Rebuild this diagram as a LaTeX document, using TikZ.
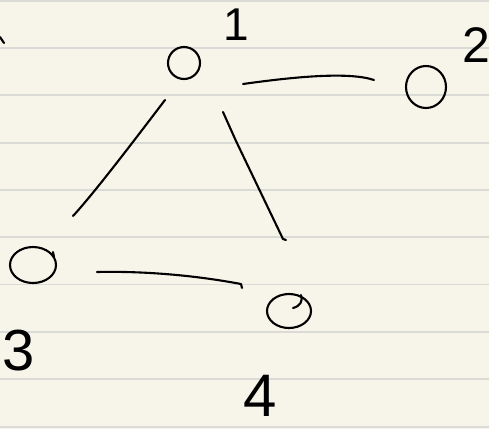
\documentclass[tikz,border=0pt]{standalone}
\usepackage{fontspec}
\setmainfont{Liberation Sans}
\usetikzlibrary{shapes.geometric}
\definecolor{paper}{HTML}{F7F5EA}
\definecolor{rule}{HTML}{DADAD6}
\tikzset{
  vertex/.style={draw=black, ellipse, line width=2.1pt, inner sep=0pt},
  stroke/.style={draw=black, line width=2.1pt, line cap=round, line join=round},
  lab/.style={inner sep=0pt, text=black},
  ruling/.style={draw=rule, line width=1.4pt}
}
\begin{document}
\begin{tikzpicture}[x=1pt, y=-1pt]
\fill[paper] (0,0) rectangle (489,429);
\useasboundingbox (0,0) rectangle (489,429);
\clip (0,0) rectangle (489,429);
\foreach \yy in {1,48,95,143,190,237,284.5,332,379,427}
  \draw[ruling] (0,\yy) -- (489,\yy);

% vertices
\node[vertex, minimum width=32pt, minimum height=32pt] (n1) at (184,63) {};
\node[vertex, minimum width=40pt, minimum height=42pt] (n2) at (426,87) {};
\node[vertex, minimum width=46pt, minimum height=36pt] (n3) at (33,265) {};
\node[vertex, minimum width=44pt, minimum height=34pt] (n4) at (289,311) {};
\draw[stroke] ([shift={(4,-3)}]n4.center) .. controls ([shift={(11,-5)}]n4.center) and ([shift={(14,-9)}]n4.center) .. ([shift={(12,-16)}]n4.center);
\draw[stroke] ([shift={(20,-13)}]n3.center) -- ([shift={(21,-8)}]n3.center);

% labels
\node[lab, font=\fontsize{46}{46}\selectfont] (l1) at (236,25) {1};
\node[lab, font=\fontsize{50}{50}\selectfont] (l2) at (476,45) {2};
\node[lab, font=\fontsize{58}{58}\selectfont] (l3) at (19,351) {3};
\node[lab, font=\fontsize{60}{60}\selectfont] (l4) at (260,396) {4};

% edges
\draw[stroke] ([shift={(59,21)}]n1.center) .. controls ([shift={(116,13)}]n1.center) and ([shift={(-76,-15)}]n2.center) .. ([shift={(-52,-7)}]n2.center);
\draw[stroke] ([shift={(-19,37)}]n1.center) .. controls ([shift={(-51,79)}]n1.center) and ([shift={(62,-73)}]n3.center) .. ([shift={(40,-49)}]n3.center);
\draw[stroke] ([shift={(39,49)}]n1.center) -- ([shift={(52,78)}]n1.center) -- ([shift={(-6,-72)}]n4.center) -- ([shift={(-3,-71)}]n4.center);
\draw[stroke] ([shift={(64,7)}]n3.center) .. controls ([shift={(110,6)}]n3.center) and ([shift={(160,10)}]n3.center) .. ([shift={(-48,-27)}]n4.center) -- ([shift={(-47,-23)}]n4.center);

% stray mark at top left
\coordinate (tick) at (0,37);
\draw[stroke] (tick) -- ++(4,6);
\end{tikzpicture}
\end{document}
